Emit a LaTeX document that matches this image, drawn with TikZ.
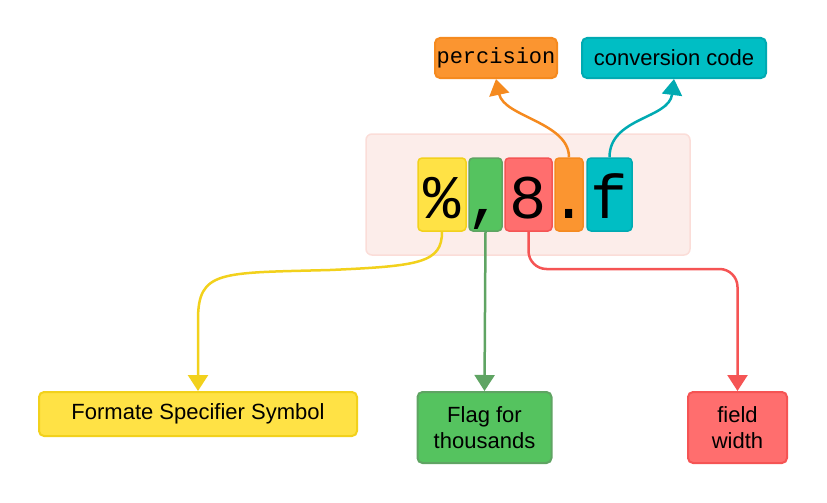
\documentclass[tikz,border=0pt]{standalone}
\usepackage{fontspec}
\setmainfont{Liberation Sans}
\setmonofont{Liberation Mono}
\usetikzlibrary{arrows.meta}

\definecolor{pinkfill}{HTML}{FCEDEA}
\definecolor{pinkline}{HTML}{FBDDD8}
\definecolor{yfill}{HTML}{FFE245}
\definecolor{yline}{HTML}{F2D11C}
\definecolor{gfill}{HTML}{55C35F}
\definecolor{gline}{HTML}{5FA463}
\definecolor{rfill}{HTML}{FF6E6E}
\definecolor{rline}{HTML}{F55454}
\definecolor{ofill}{HTML}{FB9530}
\definecolor{oline}{HTML}{F58A1F}
\definecolor{tfill}{HTML}{00BEC4}
\definecolor{tline}{HTML}{00AAB2}

\tikzset{
  chr/.style={rounded corners=4pt, line width=1.5pt, inner sep=0pt,
    minimum height=73pt, text height=60pt, text depth=13pt,
    font=\fontsize{62}{62}\selectfont\ttfamily},
  tag/.style={rounded corners=5pt, line width=2pt, inner sep=0pt,
    align=center, font=\fontsize{22}{26}\selectfont},
  link/.style={line width=2.5pt, -{Triangle[width=20pt,length=16pt]}}
}

\begin{document}
\begin{tikzpicture}[x=1pt, y=-1pt]
    \useasboundingbox (0, 0) rectangle (827, 503);

    % Specifier
    \node [draw=pinkline, fill=pinkfill, rounded corners=6pt, line width=1.5pt,
      minimum width=324pt, minimum height=121pt] (bg) at (528, 194.5) {};
    \node [chr, fill=yfill, draw=yline, minimum width=48pt] (pct) at (442, 194.5) {\makebox[0pt]{\%}};
    \node [chr, fill=gfill, draw=gline, minimum width=33pt] (comma) at (485.5, 194.5) {\makebox[0pt]{,}};
    \node [chr, fill=rfill, draw=rline, minimum width=47pt] (eight) at (528.5, 194.5) {\makebox[0pt]{8}};
    \node [chr, fill=ofill, draw=oline, minimum width=28pt] (dot) at (569, 194.5) {\makebox[0pt]{.}};
    \node [chr, fill=tfill, draw=tline, minimum width=45pt] (conv) at (609.5, 194.5) {\makebox[0pt]{f}};

    % Labels
    \node [tag, fill=ofill, draw=oline, minimum width=122pt, minimum height=40pt,
      font=\fontsize{22}{26}\selectfont\ttfamily] (prec) at (496, 58) {percision};
    \node [tag, fill=tfill, draw=tline, minimum width=184pt, minimum height=40pt] (code) at (674, 58) {conversion code};
    \node [tag, fill=yfill, draw=yline, minimum width=318pt, minimum height=44pt] (sym) at (198, 414) {Formate Specifier Symbol};
    \node [tag, fill=gfill, draw=gline, minimum width=134pt, minimum height=71pt] (flag) at (484.5, 427.5) {Flag for\\thousands};
    \node [tag, fill=rfill, draw=rline, minimum width=99pt, minimum height=71pt] (width) at (737.5, 427.5) {field\\width};

    % Arrows
    \coordinate (ybend) at (330, 270);
    \coordinate (ydown) at (198, 320);
    \coordinate (rbend) at (600, 269);
    \draw [link, draw=oline] (dot.north) .. controls +(0, -35) and +(8, 38) .. (prec.south);
    \draw [link, draw=tline] (conv.north) .. controls +(0, -40) and +(-5, 40) .. (code.south);
    \draw [link, draw=yline] (pct.south) .. controls +(0, 31) and +(90, -4) .. (ybend)
      .. controls +(-110, 3) and +(0, -50) .. (ydown) -- (sym.north);
    \draw [link, draw=gline] (comma.south) -- (flag.north);
    \draw [link, draw=rline, rounded corners=18pt] (eight.south) |- (rbend) -| (width.north);
  \end{tikzpicture}
\end{document}
